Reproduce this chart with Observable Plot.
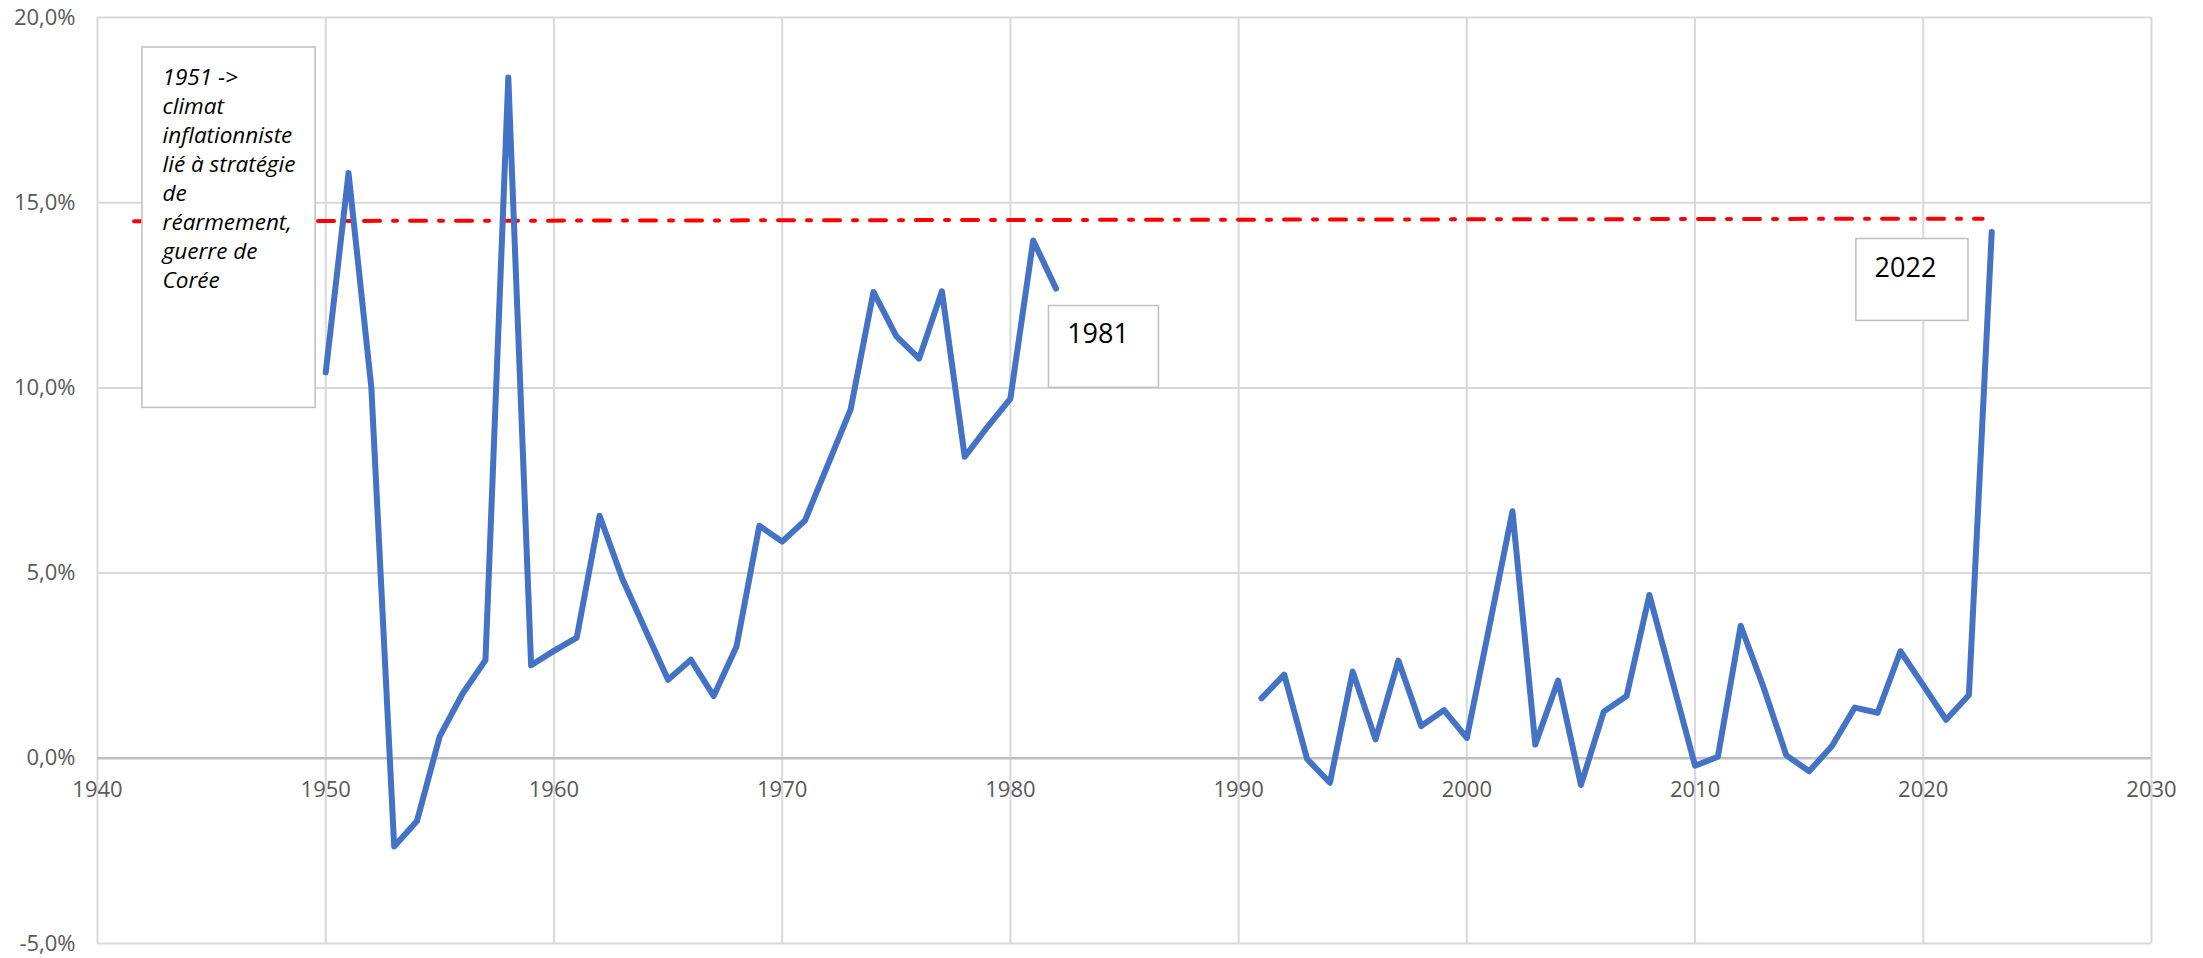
<!DOCTYPE html>
<html>
<head>
<meta charset="utf-8">
<script src="https://cdn.jsdelivr.net/npm/d3@7"></script>
<script src="https://cdn.jsdelivr.net/npm/@observablehq/plot@0.6"></script>
<style>
  html, body { margin: 0; padding: 0; background: #ffffff; }
</style>
</head>
<body>
<div id="chart"></div>
<script>
// ---- Data ----
const firstYear = 1950;
const lastYear = 2023;
// Annual values in %, null where no data (1983-1990)
const inflation = [
  10.42, 15.80, 10.00, -2.38, -1.69, 0.60, 1.75, 2.65, 18.38, 2.51,
  2.90, 3.26, 6.55, 4.84, 3.48, 2.12, 2.66, 1.68, 3.02, 6.28,
  5.85, 6.42, 7.92, 9.42, 12.59, 11.40, 10.79, 12.61, 8.14, 8.95,
  9.71, 13.98, 12.68,
  null, null, null, null, null, null, null, null,
  1.62, 2.26, -0.02, -0.66, 2.34, 0.51, 2.64, 0.87, 1.30,
  0.55, 3.60, 6.67, 0.37, 2.10, -0.72, 1.26, 1.68, 4.41, 2.10,
  -0.20, 0.04, 3.58, 1.92, 0.08, -0.35, 0.33, 1.37, 1.23, 2.89,
  1.97, 1.04, 1.71, 14.21
];
const years = d3.range(firstYear, lastYear + 1);

// Red dash-dot reference line (two end points)
const refYears = [1941.6, 2022.6];
const refValues = [14.50, 14.57];

// Axis ticks
const xTicks = [1940, 1950, 1960, 1970, 1980, 1990, 2000, 2010, 2020, 2030];
const yTicks = [-5, 0, 5, 10, 15, 20];

// Annotation boxes (data coordinates)
const noteX1 = [1941.97, 1981.69, 2017.07];
const noteX2 = [1949.56, 1986.51, 2021.98];
const noteY1 = [9.46, 10.00, 11.81];
const noteY2 = [19.19, 12.21, 14.02];
const noteTexts = [
  "1951 ->\nclimat\ninflationniste\nlié à stratégie\nde\nréarmement,\nguerre de\nCorée",
  "1981",
  "2022"
];
const noteTextX = [1942.85, 1983.84, 2019.22];
const noteTextY = [18.73, 11.72, 13.50];

// ---- Build tables ----
const series = years.map((year, i) => ({year, value: inflation[i]}));
const refLine = refYears.map((x, i) => ({x, y: refValues[i]}));
const notes = noteTexts.map((text, i) => ({
  x1: noteX1[i], x2: noteX2[i], y1: noteY1[i], y2: noteY2[i],
  text, tx: noteTextX[i], ty: noteTextY[i]
}));
const fmtPct = d => d.toFixed(1).replace(".", ",") + "%";

const chart = Plot.plot({
  width: 2203,
  height: 958,
  marginLeft: 97,
  marginRight: 52,
  marginTop: 17,
  marginBottom: 15,
  x: {domain: [1940, 2030], axis: null},
  y: {domain: [-5, 20], axis: null},
  style: {fontFamily: "'Open Sans', sans-serif", background: "#ffffff", overflow: "visible"},
  marks: [
    Plot.ruleX(xTicks, {x: d => d, y1: -5, y2: 20, stroke: "#d9d9d9", strokeWidth: 2}),
    Plot.ruleY(yTicks.filter(d => d !== 0), {y: d => d, x1: 1940, x2: 2030, stroke: "#d9d9d9", strokeWidth: 2}),
    Plot.ruleY([0], {y: d => d, x1: 1940, x2: 2030, stroke: "#bfbfbf", strokeWidth: 2.5}),
    Plot.text(yTicks, {x: 1940, y: d => d, text: fmtPct, textAnchor: "end", dx: -22, fontSize: 22, fill: "#595959"}),
    Plot.text(xTicks, {x: d => d, y: 0, text: d => String(d), dy: 32, fontSize: 22, fill: "#595959"}),
    Plot.line(refLine, {x: "x", y: "y", stroke: "#ff0000", strokeWidth: 4, strokeDasharray: "16,13,4,13"}),
    Plot.line(series, {x: "year", y: "value", stroke: "#4472c4", strokeWidth: 6, strokeLinejoin: "round", strokeLinecap: "round"}),
    Plot.rect(notes, {x1: "x1", x2: "x2", y1: "y1", y2: "y2", fill: "#ffffff", stroke: "#bfbfbf", strokeWidth: 1.5}),
    Plot.text(notes.slice(0, 1), {x: "tx", y: "ty", text: "text", textAnchor: "start", lineAnchor: "top",
      lineHeight: 1.29, fontSize: 22.5, fontStyle: "italic", fill: "#000000"}),
    Plot.text(notes.slice(1), {x: "tx", y: "ty", text: "text", textAnchor: "middle", lineAnchor: "top",
      fontSize: 27, fill: "#000000"})
  ]
});
document.getElementById("chart").appendChild(chart);
</script>
</body>
</html>
